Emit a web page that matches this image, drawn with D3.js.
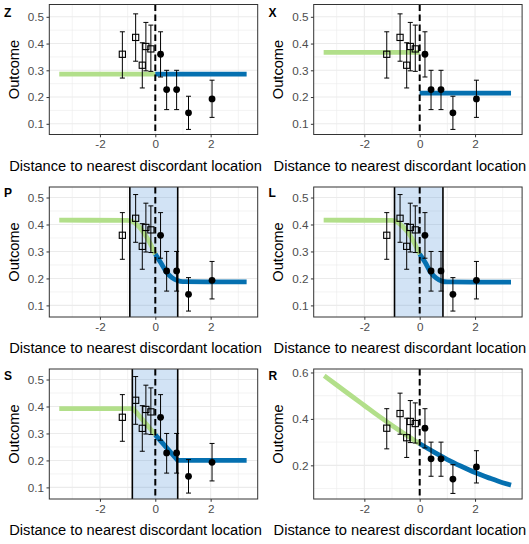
<!DOCTYPE html>
<html>
<head>
<meta charset="utf-8">
<script src="https://cdn.jsdelivr.net/npm/d3@7"></script>
<style>
	body{margin:0;background:#fff;}
	svg{display:block;font-family:"Liberation Sans",Arial,sans-serif;}
</style>
</head>
<body>
<svg id="chart" width="529" height="544"></svg>
<script>
// binned observations left of the boundary (open squares)
var sqX  = [-1.19, -0.71, -0.47, -0.34, -0.16];
var sqY  = [0.360, 0.423, 0.319, 0.389, 0.380];
var sqLo = [0.271, 0.334, 0.234, 0.298, 0.296];
var sqHi = [0.444, 0.511, 0.403, 0.479, 0.469];

// binned observations right of the boundary (filled circles)
var ptX  = [0.19, 0.41, 0.77, 1.20, 2.05];
var ptY  = [0.360, 0.228, 0.228, 0.141, 0.193];
var ptLo = [0.275, 0.153, 0.153, 0.079, 0.124];
var ptHi = [0.444, 0.300, 0.300, 0.203, 0.263];

// fitted curves, one pair per panel (left = green, right = blue)
var zLeftX  = [-3.47, 0];       var zLeftY  = [0.286, 0.286];
var zRightX = [0, 3.3];         var zRightY = [0.286, 0.286];

var xLeftX  = [-3.47, 0];       var xLeftY  = [0.367, 0.367];
var xRightX = [0, 3.3];         var xRightY = [0.215, 0.215];

var pLeftX  = [-3.47, -1.0, -0.8, -0.6, -0.4, -0.2, 0];
var pLeftY  = [0.416, 0.415, 0.410, 0.393, 0.367, 0.333, 0.290];
var pRightX = [0, 0.2, 0.4, 0.6, 0.8, 1.0, 3.3];
var pRightY = [0.290, 0.258, 0.224, 0.203, 0.192, 0.188, 0.187];

var lLeftX  = [-3.47, -1.0, -0.8, -0.6, -0.4, -0.2, 0];
var lLeftY  = [0.416, 0.415, 0.409, 0.391, 0.368, 0.333, 0.290];
var lRightX = [0, 0.2, 0.4, 0.6, 0.8, 1.0, 3.3];
var lRightY = [0.290, 0.259, 0.222, 0.201, 0.190, 0.187, 0.186];

var sLeftX  = [-3.47, -0.80, 0];
var sLeftY  = [0.392, 0.392, 0.295];
var sRightX = [0, 0.81, 3.3];
var sRightY = [0.295, 0.200, 0.200];

var rLeftX  = [-3.45, -3, -2.5, -2, -1.5, -1, -0.5, 0];
var rLeftY  = [0.586, 0.546, 0.502, 0.458, 0.414, 0.372, 0.332, 0.293];
var rRightX = [0, 0.5, 1, 1.5, 2, 2.5, 3, 3.3];
var rRightY = [0.293, 0.258, 0.225, 0.196, 0.169, 0.146, 0.125, 0.115];

// bandwidth windows
var pBand = [-0.92, 0.81];
var lBand = [-0.91, 0.84];
var sBand = [-0.83, 0.81];

var tags = ['Z', 'X', 'P', 'L', 'S', 'R'];
var xTicks = [-2, 0, 2];
var xMinor = [-3, -1, 1, 3];
var yTicks = [0.1, 0.2, 0.3, 0.4, 0.5];
var yMinor = [0.15, 0.25, 0.35, 0.45];
var yTicksR = [0.2, 0.4, 0.6];
var yMinorR = [0.1, 0.3, 0.5];

var xTitle = 'Distance to nearest discordant location';
var yTitle = 'Outcome';

var GREEN = '#b2df8a', BLUE = '#0570b0';

function zip(xs, ys){
	return xs.map(function(x, i){ return [x, ys[i]]; });
}

var panels = [
	{tag: tags[0], col: 0, row: 0, yDom: [0.06, 0.546], ticks: yTicks, minor: yMinor, left: zip(zLeftX, zLeftY), right: zip(zRightX, zRightY), band: null, smooth: false},
	{tag: tags[1], col: 1, row: 0, yDom: [0.06, 0.546], ticks: yTicks, minor: yMinor, left: zip(xLeftX, xLeftY), right: zip(xRightX, xRightY), band: null, smooth: false},
	{tag: tags[2], col: 0, row: 1, yDom: [0.057, 0.539], ticks: yTicks, minor: yMinor, left: zip(pLeftX, pLeftY), right: zip(pRightX, pRightY), band: pBand, smooth: true},
	{tag: tags[3], col: 1, row: 1, yDom: [0.057, 0.539], ticks: yTicks, minor: yMinor, left: zip(lLeftX, lLeftY), right: zip(lRightX, lRightY), band: lBand, smooth: true},
	{tag: tags[4], col: 0, row: 2, yDom: [0.057, 0.539], ticks: yTicks, minor: yMinor, left: zip(sLeftX, sLeftY), right: zip(sRightX, sRightY), band: sBand, smooth: false},
	{tag: tags[5], col: 1, row: 2, yDom: [0.055, 0.615], ticks: yTicksR, minor: yMinorR, left: zip(rLeftX, rLeftY), right: zip(rRightX, rRightY), band: null, smooth: true}
];

var colX = [0, 264.4];
var rowTop = [4.5, 187, 369];
var tagBase = [16.7, 197, 379.5];
var plotL = 49.3, plotW = 208.4, plotH = 130;

var svg = d3.select('#chart');
svg.append('rect').attr('width', 529).attr('height', 544).attr('fill', '#fff');

var squares = sqX.map(function(x, i){ return {x: x, y: sqY[i], lo: sqLo[i], hi: sqHi[i]}; });
var circles = ptX.map(function(x, i){ return {x: x, y: ptY[i], lo: ptLo[i], hi: ptHi[i]}; });

panels.forEach(function(p){
	var ox = colX[p.col] + plotL, oy = rowTop[p.row];
	var x = d3.scaleLinear().domain([-3.83, 3.70]).range([0, plotW]);
	var y = d3.scaleLinear().domain(p.yDom).range([plotH, 0]);

	var g = svg.append('g').attr('transform', 'translate(' + ox + ',' + oy + ')');
	var clipId = 'clip' + p.tag;
	g.append('clipPath').attr('id', clipId)
		.append('rect').attr('width', plotW).attr('height', plotH);

	var inner = g.append('g').attr('clip-path', 'url(#' + clipId + ')');

	// grid
	inner.selectAll('.vmin').data(xMinor).enter().append('line')
		.attr('x1', x).attr('x2', x).attr('y1', 0).attr('y2', plotH)
		.attr('stroke', '#ebebeb').attr('stroke-width', 0.6);
	inner.selectAll('.hmin').data(p.minor).enter().append('line')
		.attr('y1', y).attr('y2', y).attr('x1', 0).attr('x2', plotW)
		.attr('stroke', '#ebebeb').attr('stroke-width', 0.6);
	inner.selectAll('.vmaj').data(xTicks).enter().append('line')
		.attr('x1', x).attr('x2', x).attr('y1', 0).attr('y2', plotH)
		.attr('stroke', '#ebebeb').attr('stroke-width', 1.1);
	inner.selectAll('.hmaj').data(p.ticks).enter().append('line')
		.attr('y1', y).attr('y2', y).attr('x1', 0).attr('x2', plotW)
		.attr('stroke', '#ebebeb').attr('stroke-width', 1.1);

	if(p.band){
		inner.append('rect')
			.attr('x', x(p.band[0])).attr('width', x(p.band[1]) - x(p.band[0]))
			.attr('y', 0).attr('height', plotH)
			.attr('fill', '#4a90d9').attr('fill-opacity', 0.25);
	}

	var line = d3.line()
		.x(function(d){ return x(d[0]); })
		.y(function(d){ return y(d[1]); })
		.curve(p.smooth ? d3.curveMonotoneX : d3.curveLinear);

	inner.append('path').datum(p.left).attr('d', line)
		.attr('fill', 'none').attr('stroke', GREEN).attr('stroke-width', 4.8);
	inner.append('path').datum(p.right).attr('d', line)
		.attr('fill', 'none').attr('stroke', BLUE).attr('stroke-width', 4.8);

	if(p.band){
		inner.selectAll('.bedge').data(p.band).enter().append('line')
			.attr('x1', x).attr('x2', x).attr('y1', 0).attr('y2', plotH)
			.attr('stroke', '#000').attr('stroke-width', 1.6);
	}

	inner.append('line')
		.attr('x1', x(0)).attr('x2', x(0)).attr('y1', 0).attr('y2', plotH)
		.attr('stroke', '#000').attr('stroke-width', 2).attr('stroke-dasharray', '6.5,3.5');

	// error bars
	var all = squares.concat(circles);
	var eb = inner.selectAll('.eb').data(all).enter().append('g');
	eb.append('line')
		.attr('x1', function(d){ return x(d.x); }).attr('x2', function(d){ return x(d.x); })
		.attr('y1', function(d){ return y(d.lo); }).attr('y2', function(d){ return y(d.hi); })
		.attr('stroke', '#000').attr('stroke-width', 1);
	eb.append('line')
		.attr('x1', function(d){ return x(d.x) - 2.5; }).attr('x2', function(d){ return x(d.x) + 2.5; })
		.attr('y1', function(d){ return y(d.lo); }).attr('y2', function(d){ return y(d.lo); })
		.attr('stroke', '#000').attr('stroke-width', 1);
	eb.append('line')
		.attr('x1', function(d){ return x(d.x) - 2.5; }).attr('x2', function(d){ return x(d.x) + 2.5; })
		.attr('y1', function(d){ return y(d.hi); }).attr('y2', function(d){ return y(d.hi); })
		.attr('stroke', '#000').attr('stroke-width', 1);

	inner.selectAll('.sq').data(squares).enter().append('rect')
		.attr('x', function(d){ return x(d.x) - 3.1; }).attr('y', function(d){ return y(d.y) - 3.1; })
		.attr('width', 6.2).attr('height', 6.2)
		.attr('fill', 'none').attr('stroke', '#000').attr('stroke-width', 1.1);
	inner.selectAll('.pt').data(circles).enter().append('circle')
		.attr('cx', function(d){ return x(d.x); }).attr('cy', function(d){ return y(d.y); })
		.attr('r', 3.4).attr('fill', '#000');

	// border
	g.append('rect').attr('width', plotW).attr('height', plotH)
		.attr('fill', 'none').attr('stroke', '#333').attr('stroke-width', 1);

	// axes
	var xa = g.append('g').attr('transform', 'translate(0,' + plotH + ')')
		.call(d3.axisBottom(x).tickValues(xTicks).tickSize(2.8).tickPadding(2.5).tickFormat(d3.format('d')));
	var ya = g.append('g')
		.call(d3.axisLeft(y).tickValues(p.ticks).tickSize(2.8).tickPadding(2.5).tickFormat(d3.format('.1f')));
	[xa, ya].forEach(function(a){
		a.select('.domain').remove();
		a.selectAll('line').attr('stroke', '#333');
		a.selectAll('text').attr('fill', '#4d4d4d').style('font-size', '11.7px')
			.style('font-family', '"Liberation Sans",Arial,sans-serif');
	});
	xa.selectAll('text').text(function(d){ return d < 0 ? '-' + Math.abs(d) : d; });

	// titles
	g.append('text').attr('x', 135.5 - plotL).attr('y', plotH + 36)
		.attr('text-anchor', 'middle').style('font-size', '14.67px').attr('fill', '#000')
		.text(xTitle);
	g.append('text').attr('transform', 'translate(' + (18.5 - plotL) + ',' + (plotH / 2) + ') rotate(-90)')
		.attr('text-anchor', 'middle').style('font-size', '14.67px').attr('fill', '#000')
		.text(yTitle);

	svg.append('text').attr('x', colX[p.col] + 4).attr('y', tagBase[p.row])
		.style('font-size', '12px').style('font-weight', 'bold').attr('fill', '#000')
		.text(p.tag);
});
</script>
</body>
</html>
